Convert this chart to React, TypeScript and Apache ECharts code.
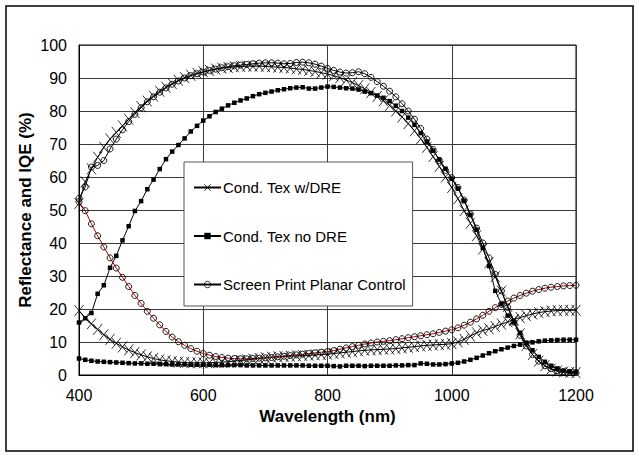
import React, { useEffect, useRef } from "react";
import * as echarts from "echarts";

const wavelengths = [
  400, 410, 420, 430, 440, 450, 460, 470, 480, 490,
  500, 510, 520, 530, 540, 550, 560, 570, 580, 590,
  600, 610, 620, 630, 640, 650, 660, 670, 680, 690,
  700, 710, 720, 730, 740, 750, 760, 770, 780, 790,
  800, 810, 820, 830, 840, 850, 860, 870, 880, 890,
  900, 910, 920, 930, 940, 950, 960, 970, 980, 990,
  1000, 1010, 1020, 1030, 1040, 1050, 1060, 1070, 1080, 1090,
  1100, 1110, 1120, 1130, 1140, 1150, 1160, 1170, 1180, 1190,
  1200,
];

const seriesNames = ["Cond. Tex w/DRE", "Cond. Tex no DRE", "Screen Print Planar Control"];

// IQE curves
const texDreIqe = [
  52.0, 58.5, 62.5, 66.0, 69.0, 71.5, 73.5, 75.5, 77.5, 79.5,
  81.3, 83.0, 84.5, 86.0, 87.2, 88.3, 89.3, 90.1, 90.8, 91.4,
  91.9, 92.3, 92.7, 93.0, 93.2, 93.4, 93.5, 93.6, 93.6, 93.6,
  93.5, 93.4, 93.3, 93.2, 93.0, 92.8, 92.6, 92.3, 92.0, 91.6,
  91.2, 90.7, 90.1, 89.4, 88.6, 87.7, 86.7, 85.6, 84.4, 83.1,
  81.7, 80.0, 78.2, 76.2, 74.0, 71.6, 69.0, 66.2, 63.2, 60.0,
  56.8, 53.4, 49.8, 46.0, 42.2, 38.2, 34.0, 29.8, 25.4, 20.8,
  16.5, 12.5, 9.0, 6.2, 4.2, 2.8, 1.8, 1.2, 0.9, 0.8,
  0.7,
];
const texNoDreIqe = [
  15.9, 17.2, 18.8, 24.6, 27.2, 32.5, 36.1, 40.8, 45.1, 49.7,
  52.7, 56.3, 59.2, 62.4, 65.4, 67.7, 69.7, 71.7, 73.8, 75.5,
  77.1, 78.4, 79.7, 80.7, 81.7, 82.5, 83.2, 83.8, 84.5, 85.1,
  85.5, 85.9, 86.3, 86.6, 86.9, 87.1, 87.2, 86.8, 86.8, 87.1,
  87.4, 87.3, 87.1, 86.9, 86.8, 86.5, 85.9, 85.4, 84.7, 84.0,
  83.0, 81.6, 80.0, 78.0, 75.8, 73.3, 70.7, 68.0, 65.3, 62.5,
  59.5, 56.5, 52.8, 48.5, 44.0, 38.5, 33.0, 25.5, 21.5, 18.0,
  16.0, 12.8, 9.8, 7.5, 5.5, 4.0, 2.8, 2.0, 1.3, 1.0,
  0.9,
];
const planarIqe = [
  53.5, 57.0, 63.0, 63.5, 65.0, 68.5, 71.5, 74.3, 76.8, 79.0,
  81.0, 82.8, 84.3, 85.7, 87.0, 88.1, 89.1, 90.0, 90.7, 91.3,
  91.8, 92.3, 92.7, 93.1, 93.4, 93.7, 93.9, 94.1, 94.3, 94.5,
  94.6, 94.6, 94.5, 94.3, 94.4, 94.7, 94.8, 94.6, 94.2, 93.6,
  92.9, 92.3, 91.8, 91.5, 91.6, 91.9, 91.3, 90.2, 88.9, 87.5,
  86.0, 84.3, 82.2, 80.0, 77.5, 74.7, 71.5, 68.3, 65.0, 62.0,
  59.8, 56.8, 53.0, 48.8, 44.5, 40.0, 35.5, 30.5, 25.5, 20.5,
  16.0, 12.0, 8.8, 6.2, 4.2, 2.8, 1.9, 1.3, 1.0, 0.8,
  0.7,
];

// Reflectance curves
const texDreRefl = [
  19.5, 17.3, 15.5, 13.8, 12.2, 10.8, 9.6, 8.5, 7.6, 6.8,
  6.1, 5.5, 5.0, 4.6, 4.3, 4.1, 3.9, 3.8, 3.7, 3.7,
  3.7, 3.7, 3.8, 3.9, 4.0, 4.2, 4.4, 4.6, 4.8, 5.0,
  5.2, 5.4, 5.5, 5.6, 5.7, 5.8, 5.9, 6.0, 6.1, 6.2,
  6.3, 6.5, 6.7, 6.9, 7.1, 7.3, 7.5, 7.6, 7.7, 7.8,
  7.9, 8.0, 8.2, 8.4, 8.6, 8.8, 9.0, 9.1, 9.2, 9.3,
  9.5, 10.0, 10.8, 11.8, 12.8, 13.5, 14.0, 14.7, 15.4, 16.1,
  16.8, 17.4, 18.0, 18.5, 18.9, 19.2, 19.4, 19.5, 19.6, 19.6,
  19.6,
];
const texNoDreRefl = [
  5.0, 4.6, 4.3, 4.1, 4.0, 3.9, 3.8, 3.7, 3.6, 3.5,
  3.5, 3.4, 3.4, 3.3, 3.3, 3.2, 3.2, 3.2, 3.1, 3.1,
  3.1, 3.1, 3.0, 3.0, 3.0, 3.0, 3.0, 2.9, 2.9, 2.9,
  2.9, 2.9, 2.9, 2.9, 2.9, 2.9, 2.9, 2.8, 2.8, 2.8,
  2.8, 2.7, 2.6, 2.8, 2.8, 2.8, 2.7, 2.8, 2.8, 2.8,
  2.8, 2.9, 2.9, 3.0, 3.0, 3.5, 3.4, 3.2, 3.2, 3.3,
  3.5, 3.7, 4.1, 4.6, 5.2, 5.9, 6.6, 7.2, 7.8, 8.3,
  8.8, 9.2, 9.6, 9.9, 10.2, 10.4, 10.5, 10.6, 10.7, 10.7,
  10.7,
];
const planarRefl = [
  52.5, 49.8, 45.8, 42.2, 38.8, 35.5, 32.4, 29.6, 26.8, 24.1,
  21.7, 19.3, 17.2, 15.2, 13.2, 11.5, 10.1, 9.0, 8.0, 7.2,
  6.5, 6.0, 5.6, 5.3, 5.1, 5.0, 4.9, 4.9, 5.0, 5.1,
  5.2, 5.3, 5.5, 5.7, 5.9, 6.1, 6.3, 6.5, 6.7, 6.9,
  7.1, 7.4, 7.8, 8.2, 8.6, 9.0, 9.4, 9.7, 10.0, 10.2,
  10.4, 10.7, 11.0, 11.3, 11.6, 11.9, 12.2, 12.5, 12.9, 13.3,
  13.7, 14.3, 15.1, 16.0, 17.0, 18.1, 19.3, 20.4, 21.4, 22.4,
  23.3, 24.1, 24.8, 25.4, 25.9, 26.3, 26.6, 26.8, 27.0, 27.1,
  27.2,
];

const FONT = "'Liberation Sans', Arial, Helvetica, sans-serif";
const CROSS = "path://M0,0L10,12M10,0L0,12";

const pairs = (vals: number[]) => wavelengths.map((w, i) => [w, vals[i]]);

export default function App() {
  const ref = useRef<HTMLDivElement>(null);
  useEffect(() => {
    if (!ref.current) return;
    const chart = echarts.init(ref.current, undefined, { renderer: "svg" });
    const crossStyle = {
      symbol: CROSS,
      symbolSize: [9, 11],
      itemStyle: { color: "#000", borderColor: "#000", borderWidth: 0.8 },
    };
    const squareStyle = {
      symbol: "rect",
      symbolSize: 4.5,
      itemStyle: { color: "#000" },
    };
    const circleStyle = {
      symbol: "circle",
      symbolSize: 6,
      itemStyle: { color: "rgba(255,255,255,0)", borderColor: "#000", borderWidth: 0.9 },
    };
    const base = {
      type: "line",
      showSymbol: true,
      showAllSymbol: true,
      silent: true,
      emphasis: { disabled: true },
      lineStyle: { color: "#000", width: 1 },
    };
    chart.setOption({
      animation: false,
      backgroundColor: "#fff",
      textStyle: { fontFamily: FONT },
      grid: {
        left: 79,
        top: 45,
        width: 497,
        height: 330,
        show: true,
        borderColor: "#000",
        borderWidth: 1,
        backgroundColor: "transparent",
      },
      xAxis: {
        type: "value",
        min: 400,
        max: 1200,
        interval: 200,
        axisLine: { show: true, onZero: false, lineStyle: { color: "#000", width: 1 } },
        axisTick: { show: false },
        axisLabel: {
          fontSize: 16,
          color: "#000",
          margin: 12,
          fontFamily: FONT,
          formatter: (v: number) => String(v),
        },
        splitLine: { show: true, lineStyle: { color: "#3a3a3a", width: 1 } },
        name: "Wavelength (nm)",
        nameLocation: "middle",
        nameGap: 33,
        nameMoveOverlap: false,
        nameTextStyle: { fontSize: 17, fontWeight: "bold", color: "#000", fontFamily: FONT },
      },
      yAxis: {
        type: "value",
        min: 0,
        max: 100,
        interval: 10,
        axisLine: { show: true, lineStyle: { color: "#000", width: 1 } },
        axisTick: { show: false },
        axisLabel: { fontSize: 16, color: "#000", margin: 12, fontFamily: FONT },
        splitLine: { show: true, lineStyle: { color: "#3a3a3a", width: 1 } },
        name: "Reflectance and IQE (%)",
        nameLocation: "middle",
        nameGap: 45,
        nameMoveOverlap: false,
        nameTextStyle: { fontSize: 17, fontWeight: "bold", color: "#000", fontFamily: FONT },
      },
      legend: {
        data: seriesNames,
        orient: "vertical",
        left: 184,
        top: 162,
        padding: [18, 7, 14, 9],
        itemGap: 33.5,
        itemWidth: 27,
        itemHeight: 8,
        backgroundColor: "#fff",
        borderColor: "#555",
        borderWidth: 1,
        selectedMode: false,
        itemStyle: { borderWidth: 0.8 },
        textStyle: { fontSize: 15, color: "#000", fontFamily: FONT, padding: [0, 0, 0, -3] },
      },
      graphic: [
        {
          type: "rect",
          shape: { x: 6, y: 6, width: 627, height: 445 },
          style: { fill: "none", stroke: "#000", lineWidth: 1.5 },
          silent: true,
          z: 100,
        },
      ],
      series: [
        { ...base, name: seriesNames[0], data: pairs(texDreIqe), ...crossStyle },
        { ...base, name: seriesNames[1], data: pairs(texNoDreIqe), ...squareStyle },
        { ...base, name: seriesNames[2], data: pairs(planarIqe), ...circleStyle },
        { ...base, name: seriesNames[0], data: pairs(texDreRefl), ...crossStyle },
        { ...base, name: seriesNames[1], data: pairs(texNoDreRefl), ...squareStyle },
        {
          ...base,
          name: seriesNames[2],
          data: pairs(planarRefl),
          ...circleStyle,
          lineStyle: { color: "#b00000", width: 1 },
        },
      ],
    });
    return () => chart.dispose();
  }, []);
  return (
    <div
      ref={ref}
      style={{ position: "absolute", left: 0, top: 0, width: 639, height: 456 }}
    />
  );
}
